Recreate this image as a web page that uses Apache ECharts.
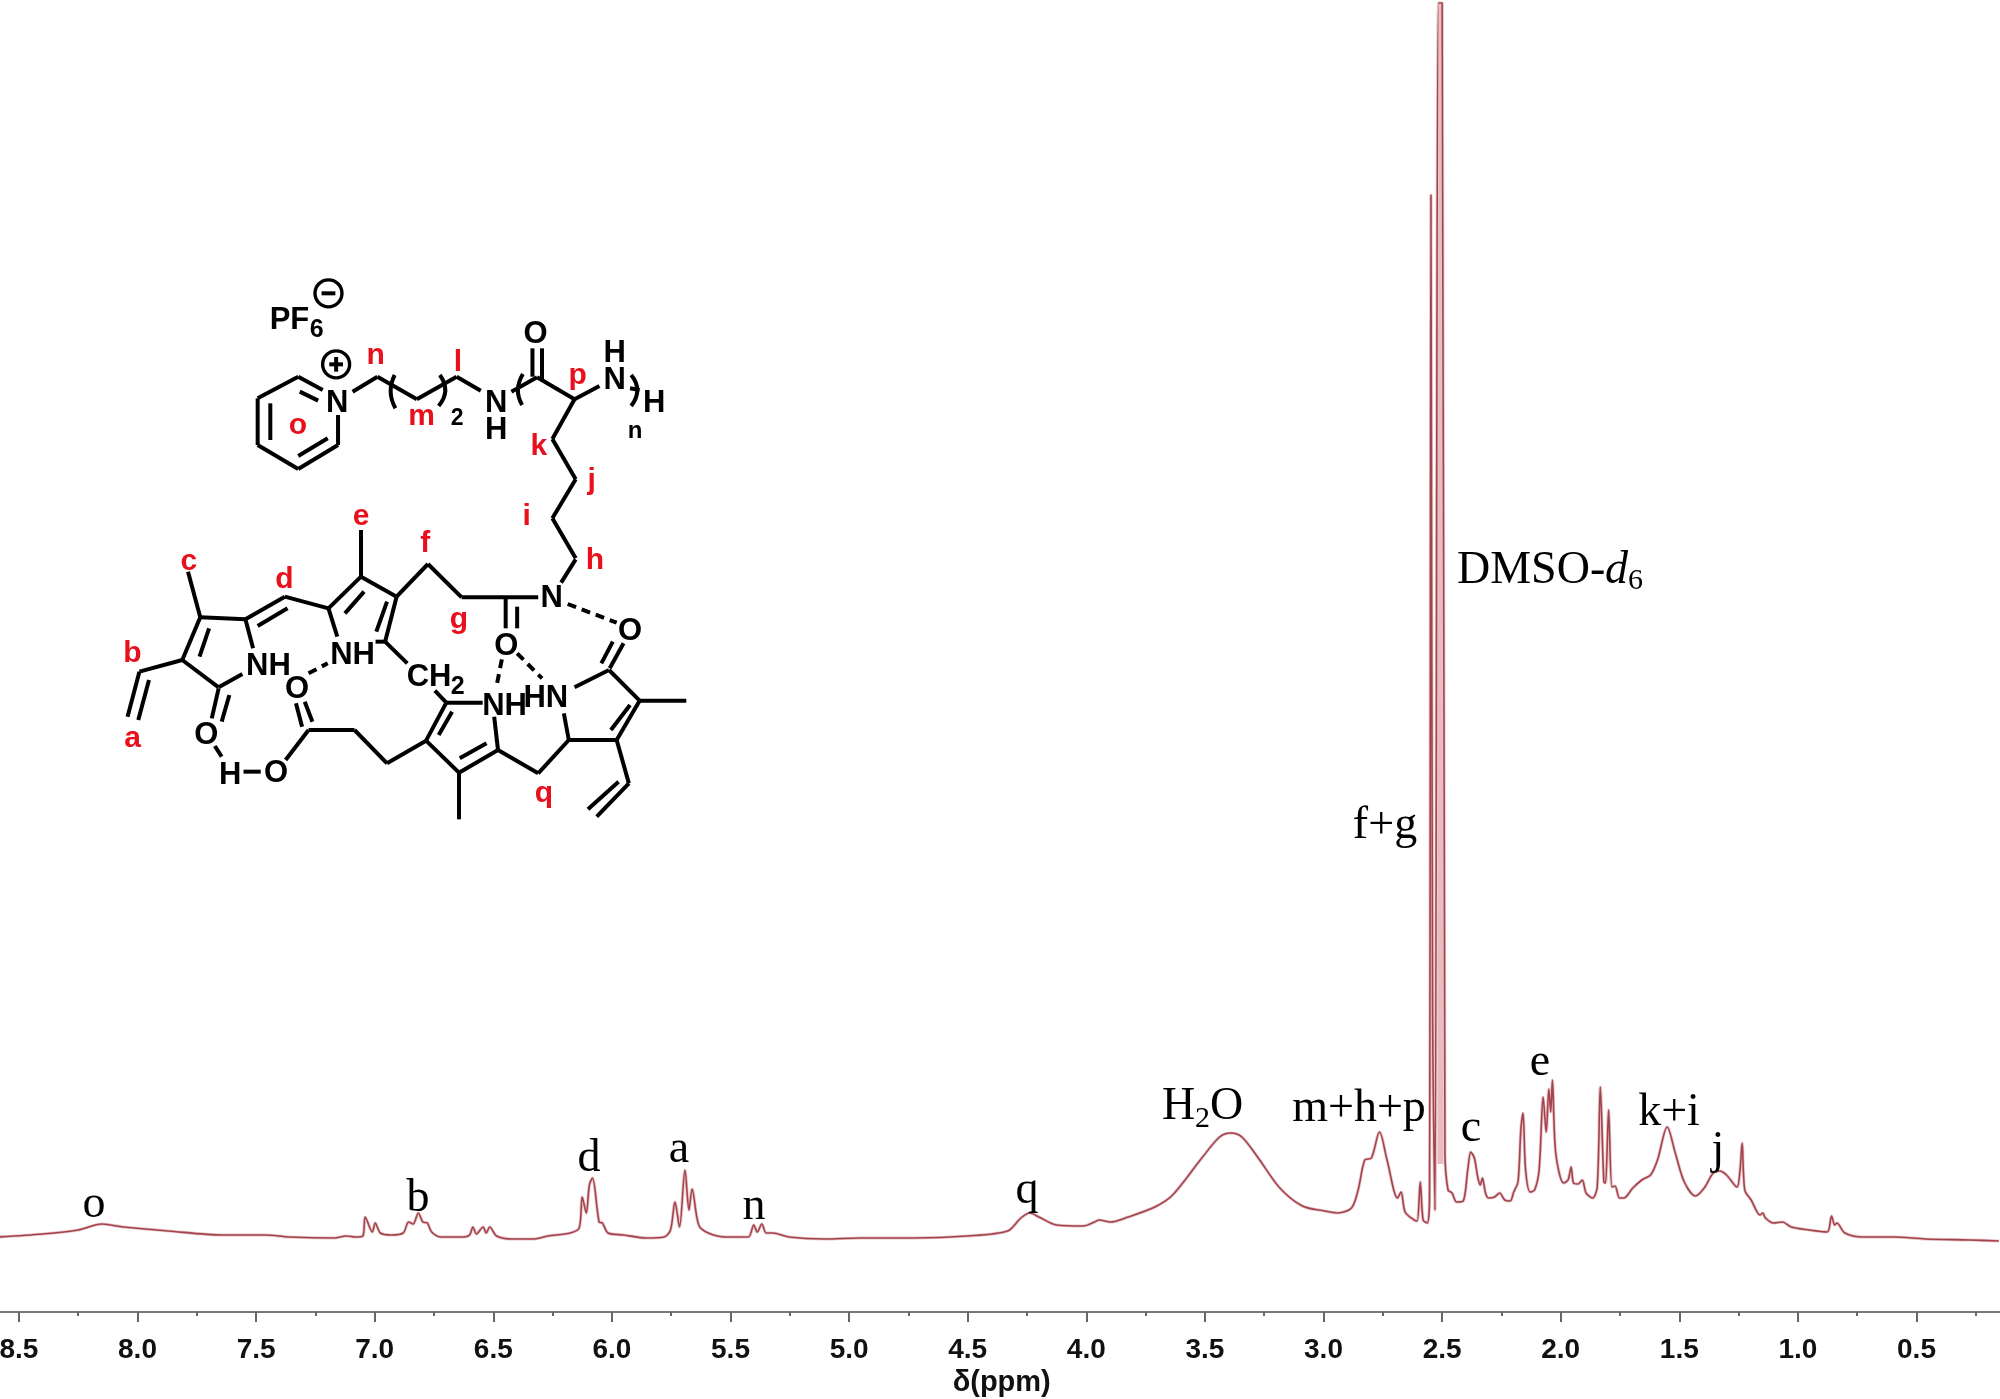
<!DOCTYPE html>
<html><head><meta charset="utf-8">
<style>html,body{margin:0;padding:0;background:#fff}#c{width:2000px;height:1399px}</style>
<script src="https://cdn.jsdelivr.net/npm/echarts@6/dist/echarts.min.js"></script>
</head><body><div id="c"></div>
<script>
// Spectrum: chemical shift (ppm) and signal height (a.u.)
const ppmAromatic = [8.585,8.40,8.25,8.15,8.06,7.87,7.64,7.46,7.36,7.17,7.12,7.08,7.05,7.04,7.01,6.998,6.976,6.93,6.88,6.857,6.838,6.816,6.797,6.778,6.76,6.72,6.628,6.60,6.586,6.571,6.543,6.53,6.515,6.486,6.42,6.327,6.27,6.176,6.138,6.125,6.108,6.095,6.082,6.054,6.04,6.016,5.95,5.856,5.78,5.753,5.734,5.715,5.692,5.675,5.662,5.634];
const intAromatic = [75,78,82,88,85,81,77,77,75,74,76,75,76,95,80,89,79,77,79,90,88,99,90,89,80,75,75,77,85,78,85,79,85,76,73,73,76,79,84,115,99,127,134,90,89,79,77,74,75,82,110,85,142,102,123,87];
const ppmMiddle = [5.594,5.519,5.425,5.402,5.387,5.368,5.349,5.321,5.255,5.105,4.954,4.728,4.502,4.332,4.276,4.238,4.2,4.125,4.012,3.965,3.946,3.899,3.824,3.711,3.636,3.513,3.438,3.391,3.344,3.278,3.184,3.089,2.995,2.939,2.882,2.854,2.826,2.798,2.764,2.732,2.688,2.673,2.656,2.618,2.605,2.592,2.58,2.562];
const intMiddle = [79,75,75,87,80,88,79,79,75,73,74,74,76,81,94,99,95,87,86,90,92,90,95,105,117,154,175,179,175,155,124,106,101,99,104,122,152,154,180,152,114,120,100,92,91,130,92,89];
const ppmSolvent = [2.553,2.547,2.54,2.53,2.515,2.5,2.488,2.475];
const intSolvent = [115,1117,300,102,1309,1309,159,122];
const ppmAliphatic = [2.458,2.439,2.411,2.392,2.379,2.364,2.349,2.339,2.33,2.317,2.304,2.279,2.257,2.236,2.213,2.198,2.18,2.168,2.159,2.148,2.129,2.11,2.091,2.074,2.061,2.05,2.042,2.035,2.021,1.988,1.969,1.956,1.946,1.927,1.909,1.893,1.865,1.846,1.833,1.818,1.811,1.798,1.784,1.771,1.752,1.734,1.696,1.658,1.621,1.592,1.551,1.517,1.479,1.432,1.395,1.357,1.329,1.301,1.257,1.244,1.235,1.224,1.197,1.16,1.148,1.137,1.103,1.065,1.028,0.953,0.877,0.858,0.845,0.836,0.802,0.727,0.595,0.463,0.275,0.153];
const intAliphatic = [119,110,111,142,160,154,134,127,134,119,114,115,119,112,111,120,130,182,199,142,120,122,142,215,180,223,200,232,159,129,132,145,129,128,132,119,114,125,225,130,129,202,125,126,114,114,124,132,137,152,185,159,130,116,124,139,141,137,125,142,169,122,112,97,99,94,89,90,85,82,80,96,87,89,79,75,75,73,72,71];
const dmsoCentre = [2.507];

const ppm = [...ppmAromatic, ...ppmMiddle, ...ppmSolvent, ...ppmAliphatic];
const intensity = [...intAromatic, ...intMiddle, ...intSolvent, ...intAliphatic];
const points = ppm.map((p, i) => [p, intensity[i]]);
const dmsoBand = [[dmsoCentre[0], 148], [dmsoCentre[0], 1310]];

// Peak annotations
const serif = '"Liberation Serif","Times New Roman",serif';
const sans = '"Liberation Sans",Arial,sans-serif';
const g = [];
function txt(x, y, text, font, size, fill, weight, style, align) {
  g.push({type:'text', silent:true, x, y:y+2, z:20, style:{text, fill, align:align||'center', verticalAlign:'middle',
    font:(style||'normal')+' '+(weight||'normal')+' '+size+'px '+font}});
}
const peakLabels = [['o',94,1203],['b',418,1197],['d',589,1157],['a',679,1148],['n',754,1205],['q',1027,1189],
  ['m+h+p',1359,1107],['c',1471,1127],['e',1540,1061],['k+i',1669,1111],['j',1718,1149],['f+g',1385,824]];
peakLabels.forEach(l => txt(l[1], l[2], l[0], serif, 46, '#000'));
txt(1162,1105,'H',serif,46,'#000','normal','normal','left');
txt(1195,1117,'2',serif,30,'#000','normal','normal','left');
txt(1210,1105,'O',serif,46,'#000','normal','normal','left');
txt(1457,569,'DMSO-',serif,46,'#000','normal','normal','left');
txt(1605,569,'d',serif,46,'#000','normal','italic','left');
txt(1628,579,'6',serif,30,'#000','normal','normal','left');

// Chemical structure drawing (overlay, not data)
const Z4 = (x,y)=>[100+x/2.613, 270+y/3];
const Z5 = (x,y)=>[100+x/2.613, 500+y/3];
const bond = 4;
function seg(Z, list, dash) {
  list.forEach(s => {
    const a = Z(s[0],s[1]), b = Z(s[2],s[3]);
    g.push({type:'line', silent:true, z:15, shape:{x1:a[0],y1:a[1],x2:b[0],y2:b[1]},
      style:{stroke:'#000', lineWidth:bond, lineCap:'butt', lineDash:dash||null}});
  });
}
function arc(Z, s) {
  const a=Z(s[0],s[1]), c=Z(s[2],s[3]), b=Z(s[4],s[5]);
  g.push({type:'bezierCurve', silent:true, z:15, shape:{x1:a[0],y1:a[1],x2:b[0],y2:b[1],cpx1:c[0],cpy1:c[1]},
    style:{stroke:'#000', lineWidth:bond, fill:null}});
}
function charge(Z, x, y, plus) {
  const c = Z(x,y);
  g.push({type:'circle', silent:true, z:15, shape:{cx:c[0],cy:c[1],r:13.5}, style:{stroke:'#000',lineWidth:3.4,fill:null}});
  seg(Z, [[x-18,y,x+18,y]]);
  if (plus) seg(Z, [[x,y-22,x,y+22]]);
}
function at(Z, x, y, t, size, color) { const p=Z(x,y); txt(p[0],p[1],t,sans,size||31,color||'#000','bold'); }

seg(Z4, [[582,360,518,320],[518,320,412,385],[412,385,412,525],[412,525,518,597],[518,597,622,525],[622,525,622,435],
  [570,392,522,365],[445,400,445,510],[595,505,518,558],
  [660,365,725,320],[725,320,828,388],[828,388,932,320],[932,320,995,362],
  [1075,365,1142,322],[1142,322,1240,388],[1240,388,1305,348],
  [1130,320,1130,235],[1155,330,1155,235],[1385,355,1410,360],
  [1240,388,1182,507],[1182,507,1243,628],[1243,628,1182,745],[1182,745,1243,865]]);
arc(Z4,[770,315,748,365,772,415]); arc(Z4,[888,315,918,362,885,408]);
arc(Z4,[1105,312,1080,360,1103,405]); arc(Z4,[1388,315,1420,360,1388,408]);
charge(Z4,597,70,false); charge(Z4,617,283,true);
at(Z4,495,145,'PF'); at(Z4,566,174,'6',25);
at(Z4,620,395,'N'); at(Z4,1035,395,'N'); at(Z4,1035,475,'H'); at(Z4,1138,187,'O');
at(Z4,1345,325,'N'); at(Z4,1345,245,'H'); at(Z4,1448,395,'H'); at(Z4,1398,478,'n',24); at(Z4,933,440,'2',23);

seg(Z5, [[1243,178,1205,248],
  [262,352,380,358],[380,358,400,445],[215,480,262,352],[260,470,285,385],[215,480,310,562],[310,562,372,522],
  [310,565,292,655],[338,585,318,665],[215,480,103,515],[103,515,72,650],[128,540,100,660],[262,352,230,215],
  [380,358,483,290],[412,378,490,325],[483,290,597,325],
  [597,325,682,230],[682,230,775,290],[775,290,745,425],[597,325,620,410],[640,340,690,275],[722,395,750,305],[682,230,682,90],
  [775,290,857,192],[857,192,945,292],[945,292,1145,292],[1060,292,1060,385],[1090,320,1090,385],
  [720,425,745,425],[745,425,803,490],
  [1340,425,1310,490],[1368,430,1332,505],
  [1240,562,1330,510],[1330,510,1410,602],[1410,602,1350,720],[1350,720,1225,720],[1225,720,1212,640],[1385,615,1335,690],[1410,602,1532,602],
  [1350,720,1382,850],[1382,850,1298,950],[1355,845,1275,928],
  [1225,720,1145,820],[1145,820,1040,750],[1040,750,1030,650],[1000,608,905,608],[905,608,852,722],[852,722,938,818],[938,818,1040,750],
  [920,635,885,705],[940,775,1010,730],[905,608,875,572],[938,818,938,958],
  [852,722,750,790],[750,790,665,690],[665,690,545,690],[545,690,485,780],[528,680,512,610],[555,665,535,605],
  [375,815,420,815],[300,738,318,770]]);
seg(Z5, [[1222,312,1350,368],[545,520,595,490],[1050,478,1035,565],[1090,460,1155,535]], [9,6]);
[[440,492,'NH'],[660,460,'NH'],[860,525,'CH'],[1057,612,'NH'],[1165,590,'HN'],[1180,290,'N'],
 [1385,388,'O'],[1062,432,'O'],[515,562,'O'],[278,700,'O'],[460,815,'O'],[340,820,'H']].forEach(a=>at(Z5,a[0],a[1],a[2]));
at(Z5,935,555,'2',25);

const red = '#e8101c';
[[720,250,'n'],[935,272,'l'],[1248,312,'p'],[840,435,'m'],[517,460,'o'],[1147,525,'k'],[1285,625,'j']].forEach(a=>at(Z4,a[0],a[1],a[2],30,red));
[[682,45,'e'],[1115,45,'i'],[850,125,'f'],[232,180,'c'],[482,232,'d'],[85,455,'b'],[85,710,'a'],[938,352,'g'],[1293,175,'h'],[1160,875,'q']].forEach(a=>at(Z5,a[0],a[1],a[2],30,red));

const chart = echarts.init(document.getElementById('c'), null, {renderer:'canvas'});
chart.setOption({
  animation:false,
  backgroundColor:'#fff',
  grid:{left:-99.7, top:0, width:2134.8, height:1312, containLabel:false, outerBoundsMode:'none'},
  xAxis:{type:'value', inverse:true, min:0, max:9, interval:0.5,
    axisLine:{show:true,onZero:false,lineStyle:{color:'#777',width:2}},
    axisTick:{show:true,length:10,lineStyle:{color:'#666',width:2}},
    minorTick:{show:true,splitNumber:2,length:4,lineStyle:{color:'#666',width:2}},
    splitLine:{show:false},
    axisLabel:{show:true,margin:24,color:'#111',fontFamily:sans,fontWeight:'bold',fontSize:28,hideOverlap:false,
      formatter:v=>v.toFixed(1)},
    name:'δ(ppm)',nameLocation:'middle',nameGap:54,
    nameTextStyle:{color:'#111',fontFamily:sans,fontWeight:'bold',fontSize:29,padding:[0,0,0,68]}},
  yAxis:{type:'value',min:0,max:1312,show:false},
  series:[
    {type:'line',name:'DMSO band',data:dmsoBand,symbol:'none',silent:true,z:1,lineStyle:{color:'#eabcc0',width:6,cap:'butt'}},
    {type:'line',name:'halo',data:points,symbol:'none',smooth:0.3,silent:true,z:2,lineStyle:{color:'#e6c6c8',width:3.2}},
    {type:'line',name:'1H NMR',data:points,symbol:'none',smooth:0.3,silent:true,z:3,lineStyle:{color:'#a4434d',width:1.6}}
  ],
  graphic:{elements:g}
});
</script></body></html>
